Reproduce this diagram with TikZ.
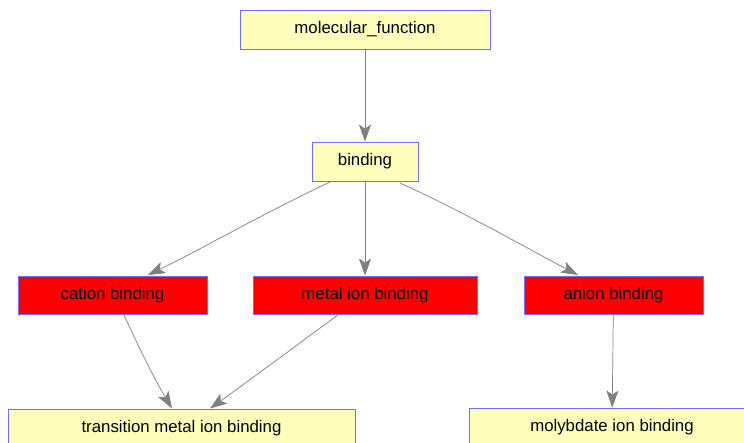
\documentclass[tikz,border=0pt]{standalone}
\usepackage{fontspec}
\setmainfont{Liberation Sans}
\usetikzlibrary{arrows.meta}
\definecolor{boxyellow}{RGB}{255,255,187}
\definecolor{boxred}{RGB}{255,0,0}
\definecolor{boxline}{RGB}{110,110,255}
\definecolor{edgegray}{RGB}{128,128,128}
\begin{document}
\begin{tikzpicture}[x=1pt,y=-1pt,
  gobox/.style={draw=boxline,line width=0.8pt,inner sep=0pt,font=\fontsize{16.8}{19}\selectfont,text=black},
  yel/.style={gobox,fill=boxyellow},
  hot/.style={gobox,fill=boxred},
  edge/.style={draw=edgegray,line width=0.7pt,-{Stealth[length=17pt,width=12pt,inset=4pt]}}]
\useasboundingbox (0,0) rectangle (744,443);
\clip (0,0) rectangle (744,443);
\fill[white] (0,0) rectangle (744,443);
\node[yel,minimum width=250pt,minimum height=39pt] (mf) at (365,29.5) {molecular\_function};
\node[yel,minimum width=106pt,minimum height=39pt] (bd) at (365,161.5) {binding};
\node[hot,minimum width=189pt,minimum height=38pt] (cb) at (112.5,295) {cation binding};
\node[hot,minimum width=224pt,minimum height=38pt] (mb) at (365,295) {metal ion binding};
\node[hot,minimum width=179pt,minimum height=38pt] (ab) at (613.5,295) {anion binding};
\node[yel,minimum width=347pt,minimum height=39pt] (tb) at (181.5,428.5) {transition metal ion binding};
\node[yel,minimum width=286pt,minimum height=39pt] (yb) at (612,427.5) {molybdate ion binding};
\coordinate (bdL) at (330,182);
\coordinate (bdR) at (400,183);
\coordinate (cbB) at (124,315);
\coordinate (mbB) at (338,315);
\draw[edge] (mf) -- (bd);
\draw[edge] (bd) -- (mb);
\draw[edge] (bdL) .. controls (260,215) and (200,250) .. (148,275);
\draw[edge] (bdR) .. controls (470,215) and (530,250) .. (578,275);
\draw[edge] (cbB) .. controls (140,350) and (155,380) .. (172,408.5);
\draw[edge] (mbB) .. controls (290,350) and (250,380) .. (210,408.5);
\draw[edge] (ab) -- (yb);
\end{tikzpicture}
\end{document}
